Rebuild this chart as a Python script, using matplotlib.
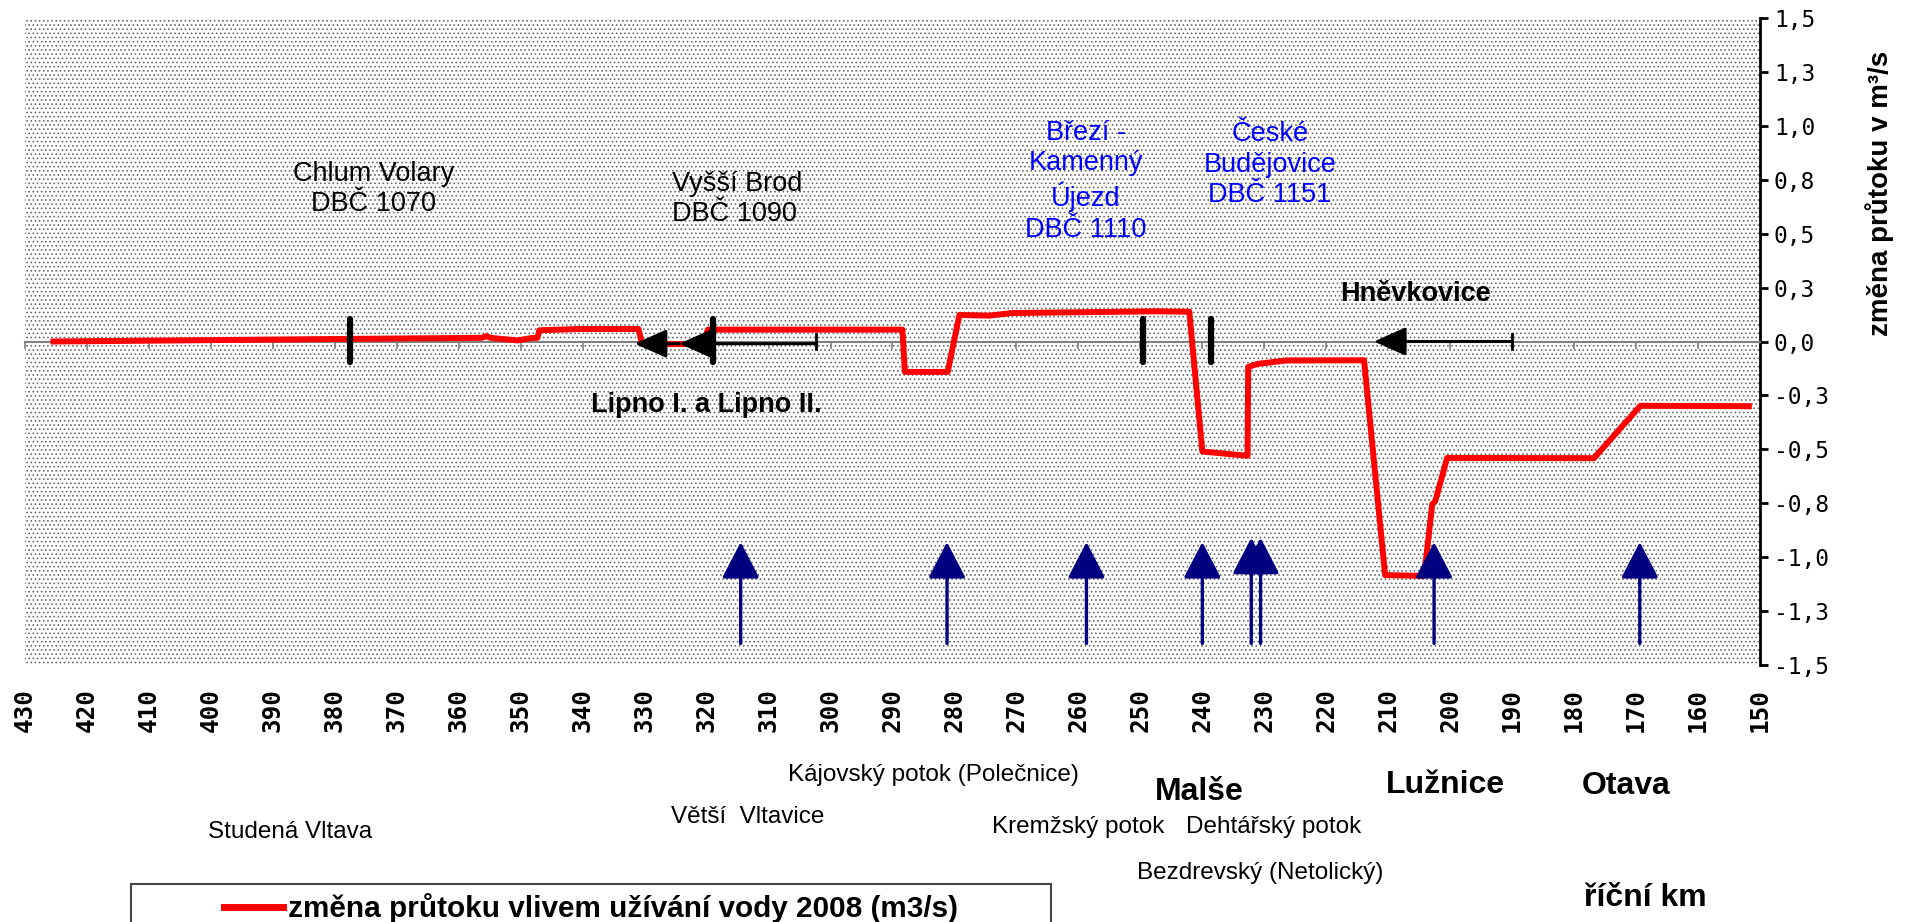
import matplotlib.pyplot as plt
from matplotlib.patches import Rectangle
from matplotlib.lines import Line2D

W, H = 1921, 922

# red profile: river km vs. change of discharge (m3/s)
river_km = [425.4, 378.0, 356.3, 355.5, 354.9, 350.5, 348.3, 347.3, 347.0, 340.5,
            331.0, 330.4, 320.6, 319.8, 288.4, 288.0, 281.1, 279.2, 274.4, 270.7,
            247.3, 242.1, 240.0, 232.7, 232.6, 231.1, 226.5, 213.9, 210.5, 204.2,
            202.9, 202.4, 200.5, 176.8, 169.3, 151.8]
flow_change = [0.0, 0.012, 0.017, 0.025, 0.017, 0.005, 0.016, 0.017, 0.052, 0.058,
               0.058, -0.012, -0.012, 0.055, 0.055, -0.141, -0.141, 0.123, 0.12, 0.132,
               0.14, 0.138, -0.51, -0.53, -0.118, -0.104, -0.088, -0.087, -1.083, -1.087,
               -0.755, -0.74, -0.54, -0.541, -0.298, -0.30]

km_ticks = list(range(430, 149, -10))
y_ticks = [-1.5, -1.25, -1.0, -0.75, -0.5, -0.25, 0.0, 0.25, 0.5, 0.75, 1.0, 1.25, 1.5]
y_tick_labels = ["-1,5", "-1,3", "-1,0", "-0,8", "-0,5", "-0,3", "0,0",
                 "0,3", "0,5", "0,8", "1,0", "1,3", "1,5"]

# gauging stations (black bars) and tributary mouths (blue arrows)
gauge_km = [377.5, 319.0, 249.5, 238.6]
tributary_km = [314.5, 281.2, 258.7, 240.0, 232.1, 230.6, 202.6, 169.4]
tributary_tip = [-0.93, -0.93, -0.93, -0.93, -0.91, -0.91, -0.93, -0.93]
tributary_tail = -1.40

# reservoirs: arrow tips and tail end
lipno_tips = [331.6, 324.4]
lipno_end = 302.3
hnevkovice_tip = 212.3
hnevkovice_end = 190.1

station_labels = [
    (373.8, 0.706, "Chlum Volary\nDBČ 1070", "black", "center"),
    (325.6, 0.66, "Vyšší Brod\nDBČ 1090", "black", "left"),
    (258.8, 0.743, "Březí -\nKamenný\nÚjezd\nDBČ 1110", "#0000FF", "center"),
    (229.1, 0.82, "České\nBudějovice\nDBČ 1151", "#0000FF", "center"),
]

# texts below the chart: x, y in pixels, text, size, bold
bottom_texts = [
    (933, 775, "Kájovský potok (Polečnice)", 17.5, False),
    (1199, 792, "Malše", 23, True),
    (1445, 785, "Lužnice", 23, True),
    (1626, 786, "Otava", 23, True),
    (748, 817, "Větší  Vltavice", 17.5, False),
    (290, 832, "Studená Vltava", 17.5, False),
    (1078, 827, "Kremžský potok", 17.5, False),
    (1274, 827, "Dehtářský potok", 17.5, False),
    (1260, 873, "Bezdrevský (Netolický)", 17.5, False),
    (1645, 898, "říční km", 23, True),
]

plt.rcParams["font.family"] = ["Liberation Sans", "DejaVu Sans"]
plt.rcParams["hatch.linewidth"] = 0.7

fig = plt.figure(figsize=(W / 100, H / 100), dpi=100)
ax = fig.add_axes([25 / W, 1 - 665 / H, 1735 / W, 647 / H])
# dotted plot area
ax.patch.set_facecolor("white")
ax.patch.set_edgecolor("#6a6a6a")
ax.patch.set_linewidth(0)
ax.patch.set_hatch("....")

ax.set_xlim(430, 150)
ax.set_ylim(-1.5, 1.5)

# zero line acts as the km axis
ax.spines["bottom"].set_position(("data", 0))
ax.spines["bottom"].set_color("#808080")
ax.spines["bottom"].set_linewidth(1.5)
ax.spines["left"].set_visible(False)
ax.spines["top"].set_visible(False)
ax.spines["right"].set_linewidth(2)
ax.set_xticks(km_ticks)
ax.tick_params(axis="x", direction="out", length=5, width=1.2, color="#808080", labelbottom=False)

sec = ax.secondary_xaxis("bottom")
sec.set_xticks(km_ticks, [str(k) for k in km_ticks])
sec.spines["bottom"].set_visible(False)
sec.tick_params(length=0, pad=17)
for lab in sec.get_xticklabels():
    lab.set_rotation(90)
    lab.set_fontfamily("DejaVu Sans Mono")
    lab.set_fontweight("bold")
    lab.set_fontsize(17.5)

ax.yaxis.tick_right()
ax.set_yticks(y_ticks, y_tick_labels)
ax.tick_params(axis="y", direction="out", length=6, width=2, pad=4)
for lab in ax.get_yticklabels():
    lab.set_fontfamily("DejaVu Sans Mono")
    lab.set_fontsize(16.5)

fig.text(1880 / W, 1 - 193 / H, "změna průtoku v m³/s", rotation=90,
         ha="center", va="center", fontsize=20, fontweight="bold")

ax.plot(river_km, flow_change, color="red", lw=4.3, zorder=3)

for km in gauge_km:
    ax.plot([km, km], [-0.095, 0.105], color="black", lw=4.5,
            solid_capstyle="round", zorder=4)

for km, tip in zip(tributary_km, tributary_tip):
    ax.annotate("", xy=(km, tip), xytext=(km, tributary_tail),
                arrowprops=dict(arrowstyle="-|>,head_length=2.25,head_width=1.17",
                                color="#000080", lw=2.4, shrinkA=0, shrinkB=0),
                zorder=4)

black_arrow = dict(arrowstyle="-|>,head_length=1.97,head_width=0.88",
                   color="black", lw=2.2, shrinkA=0, shrinkB=0)
ax.annotate("", xy=(lipno_tips[0], -0.01), xytext=(lipno_tips[1], -0.01),
            arrowprops=black_arrow, zorder=5)
ax.annotate("", xy=(lipno_tips[1], -0.01), xytext=(lipno_end, -0.01),
            arrowprops=black_arrow, zorder=5)
ax.annotate("", xy=(hnevkovice_tip, 0), xytext=(hnevkovice_end, 0),
            arrowprops=black_arrow, zorder=5)
for km in [lipno_end, hnevkovice_end]:
    ax.plot([km, km], [-0.035, 0.035], color="black", lw=2, zorder=5)

for km, y, txt, col, ha in station_labels:
    ax.text(km, y, txt, color=col, ha=ha, va="center", fontsize=19.5,
            linespacing=1.22, zorder=6)

ax.text(320.1, -0.294, "Lipno I. a Lipno II.", ha="center", va="center",
        fontsize=19.5, fontweight="bold", zorder=6)
ax.text(205.6, 0.222, "Hněvkovice", ha="center", va="center",
        fontsize=19.5, fontweight="bold", zorder=6)

for x, y, txt, size, bold in bottom_texts:
    fig.text(x / W, 1 - y / H, txt, ha="center", va="center", fontsize=size,
             fontweight="bold" if bold else "normal")

# legend box, cut by the lower figure edge
fig.add_artist(Rectangle((131 / W, 1 - 935 / H), 920 / W, 51 / H,
                         transform=fig.transFigure, fill=False,
                         edgecolor="#444444", lw=1.5))
handle = Line2D([], [], color="red", lw=5)
fig.legend([handle], ["změna průtoku vlivem užívání vody 2008 (m3/s)"],
           loc="center", bbox_to_anchor=(591 / W, 1 - 908 / H), frameon=False,
           prop={"weight": "bold", "size": 21.4}, handlelength=2.0,
           handletextpad=0.15, borderpad=0)

fig.savefig("out.png", dpi=100)
